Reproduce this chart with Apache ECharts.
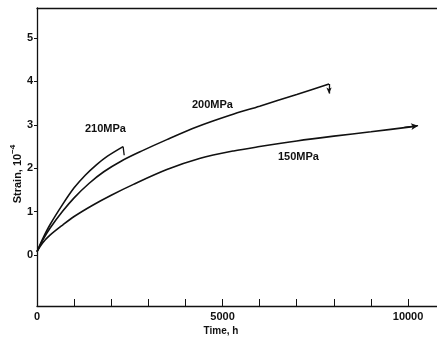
<!DOCTYPE html>
<html><head><meta charset="utf-8">
<script src="https://cdn.jsdelivr.net/npm/echarts@6/dist/echarts.min.js"></script>
<style>html,body{margin:0;padding:0;background:#fff}#c{width:437px;height:339px}</style>
</head><body><div id="c"></div>
<script>
// Time (h) and strain (10^-4)
const t210 = [0, 150, 350, 700, 1000, 1300, 1600, 1900, 2320];
const s210 = [0.08, 0.37, 0.70, 1.18, 1.55, 1.84, 2.08, 2.28, 2.50];
const t200 = [0, 150, 350, 700, 1000, 1400, 1800, 2300, 2800, 3500, 4300, 5200, 6000, 7000, 7870];
const s200 = [0.08, 0.34, 0.62, 1.02, 1.32, 1.65, 1.92, 2.18, 2.39, 2.66, 2.95, 3.22, 3.43, 3.70, 3.94];
const t150 = [0, 150, 350, 700, 1000, 1500, 2000, 2600, 3500, 4400, 5300, 6000, 7000, 8000, 9000, 10230];
const s150 = [0.08, 0.28, 0.46, 0.70, 0.89, 1.15, 1.38, 1.63, 1.97, 2.23, 2.40, 2.50, 2.63, 2.74, 2.84, 2.97];
// end markers
const end210 = [[2320, 2.50], [2350, 2.30]];
const end200 = [[7870, 3.94], [7870, 3.72]];
const end150 = [[9900, 2.94], [10270, 2.98]];
const seriesNames = ['210MPa', '200MPa', '150MPa'];
const xTicks = [0,1000,2000,3000,4000,5000,6000,7000,8000,9000,10000];
const xLabels = [0, 5000, 10000];
const yTicks = [0,1,2,3,4,5];

const zip = (a,b) => a.map((v,i)=>[v,b[i]]);
const font = 'Liberation Sans, Arial, sans-serif';
const chart = echarts.init(document.getElementById('c'));
const lineStyle = {color:'#111', width:1.6};
function mkSeries(name, data, end, arrow, size){
  return {name, type:'line', data, smooth:0.3, symbol:'none', lineStyle, silent:true, z:3,
    markLine:{silent:true, symbol:['none', arrow ? 'arrow' : 'none'], symbolSize:size,
      lineStyle:{color:'#111', width:1.3, type:'solid'}, label:{show:false},
      data:[[{coord:end[0]},{coord:end[1]}]]}};
}
chart.setOption({
  animation:false,
  backgroundColor:'#fff',
  grid:{left:37, right:0, top:8, bottom:33},
  xAxis:[{
    type:'value', min:0, max:10780,
    axisLine:{show:true, onZero:false, lineStyle:{color:'#111', width:1.3}},
    axisTick:{show:true, inside:true, length:7, customValues:xTicks, lineStyle:{color:'#111'}},
    axisLabel:{customValues:xLabels, formatter:v=>String(v), color:'#111', fontFamily:font, fontWeight:'bold', fontSize:11, margin:5},
    splitLine:{show:false}
  },{
    type:'value', position:'top', min:0, max:10780,
    axisLine:{show:true, onZero:false, lineStyle:{color:'#111', width:1.3}},
    axisTick:{show:false}, axisLabel:{show:false}, splitLine:{show:false}
  }],
  yAxis:{
    type:'value', min:-1.17, max:5.69,
    axisLine:{show:true, onZero:false, lineStyle:{color:'#111', width:1.3}},
    axisTick:{show:true, inside:false, length:3, customValues:yTicks, lineStyle:{color:'#111'}},
    axisLabel:{customValues:yTicks, color:'#111', fontFamily:font, fontWeight:'bold', fontSize:11, margin:4},
    splitLine:{show:false}
  },
  series:[
    mkSeries(seriesNames[0], zip(t210, s210), end210, false, 0),
    mkSeries(seriesNames[1], zip(t200, s200), end200, true, [4,6]),
    mkSeries(seriesNames[2], zip(t150, s150), end150, true, [5,7])
  ],
  graphic:[
    {type:'text', left:85, top:123, style:{text:seriesNames[0], font:'bold 11px '+font, fill:'#111'}},
    {type:'text', left:192, top:99, style:{text:seriesNames[1], font:'bold 11px '+font, fill:'#111'}},
    {type:'text', left:278, top:151, style:{text:seriesNames[2], font:'bold 11px '+font, fill:'#111'}},
    {type:'text', x:221, y:331, style:{text:'Time, h', font:'bold 10px '+font, fill:'#111', align:'center', verticalAlign:'middle'}},
    {type:'text', x:16, y:174, rotation:Math.PI/2, style:{
      text:'{a|Strain, 10}{b|\u22124}', align:'center', verticalAlign:'middle',
      rich:{a:{font:'bold 11px '+font, fill:'#111', lineHeight:14, verticalAlign:'bottom'},
            b:{font:'bold 8px '+font, fill:'#111', lineHeight:14, verticalAlign:'top'}}}}
  ]
});
</script></body></html>
